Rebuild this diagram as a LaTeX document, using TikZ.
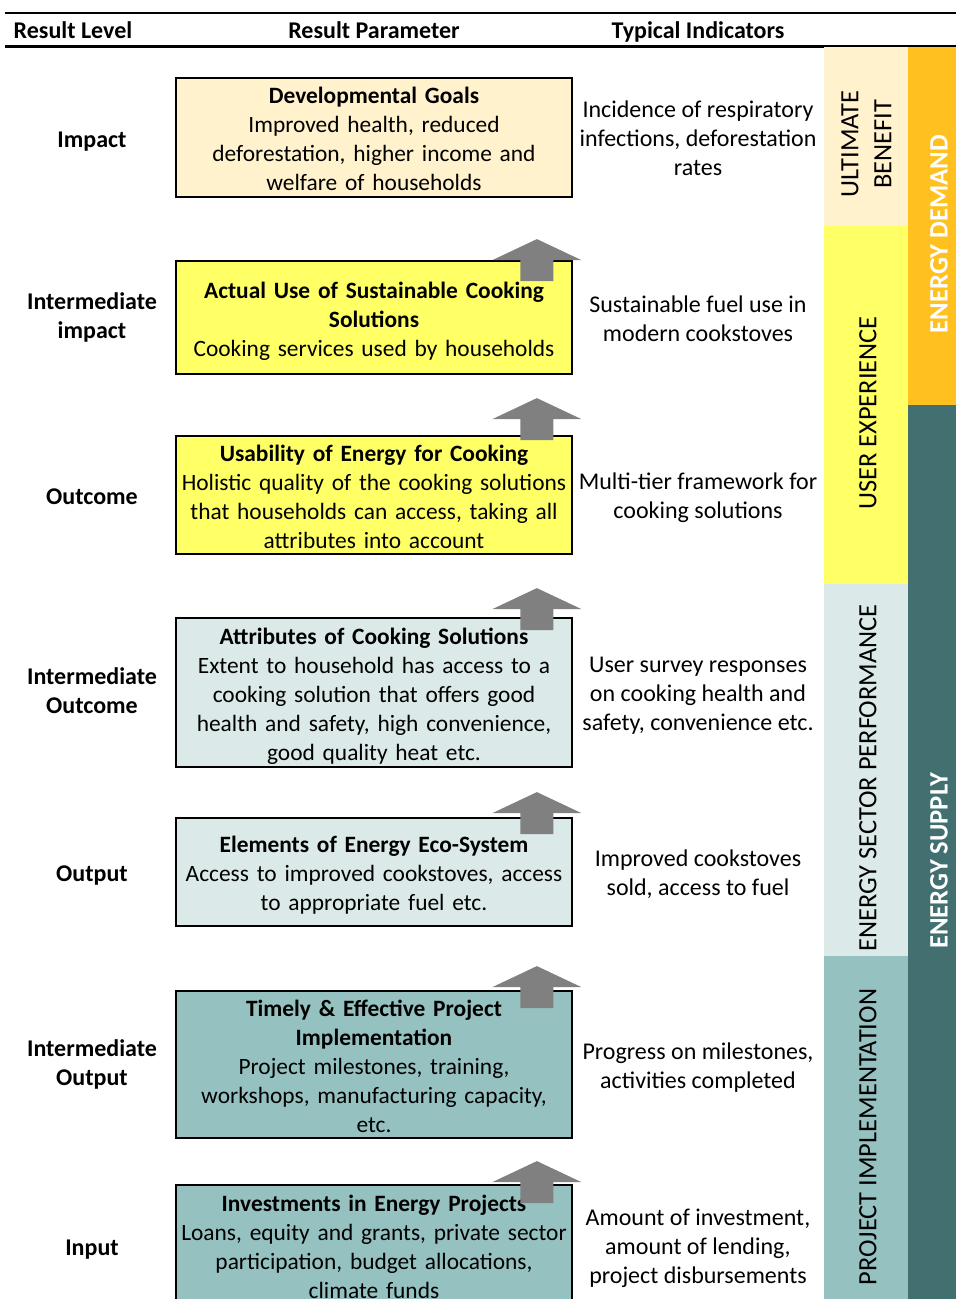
\documentclass[tikz,border=0pt]{standalone}
\usepackage{fontspec}
\setmainfont{Carlito}
\usetikzlibrary{calc}
\definecolor{cream}{HTML}{FFF2CC}
\definecolor{lemon}{HTML}{FFFF66}
\definecolor{paleteal}{HTML}{DBE9E9}
\definecolor{midteal}{HTML}{95C1C1}
\definecolor{darkteal}{HTML}{426F6F}
\definecolor{gold}{HTML}{FFC020}
\definecolor{arrowgray}{HTML}{808080}
% invisible line prop that keeps the text block height even
\newcommand\linestrut{\rule[-4.7pt]{0pt}{29pt}}
\begin{document}
\begin{tikzpicture}[x=1pt,y=-1pt,
  every node/.style={font=\fontsize{24}{29}\selectfont},
  struts/.style={execute at begin node=\linestrut, execute at end node=\linestrut},
  resbox/.style={draw=black, line width=1.8pt, text width=396pt,
    inner xsep=0pt, inner ysep=0pt, align=center, struts,
    font=\fontsize{23.4}{29}\selectfont},
  level/.style={font=\fontsize{24}{29}\selectfont\bfseries, align=center, struts},
  indic/.style={align=center, struts, yshift=-3.5pt},
  colhead/.style={font=\fontsize{24}{29}\selectfont\bfseries, anchor=base},
  band/.style={rotate=90, align=center, font=\fontsize{26.4}{33}\selectfont},
  bigband/.style={rotate=90, text=white, font=\fontsize{26.6}{33}\selectfont\bfseries},
  uparr/.pic={\fill[arrowgray] (0,0) -- (44.5,21) -- (16.5,21) -- (16.5,42)
      -- (-16.5,42) -- (-16.5,21) -- (-44.5,21) -- cycle;}
]
\clip (0,0) rectangle (956,1299);
\fill[white] (0,0) rectangle (956,1299);

% column headings and rules
\draw[line width=2.4pt] (5,13) -- (956,13);
\draw[line width=2.4pt] (5,46.5) -- (956,46.5);
\node[colhead] (h1) at (73,38) {Result Level};
\node[colhead] (h2) at (374,38) {Result Parameter};
\node[colhead] (h3) at (698,38) {Typical Indicators};

% side bands
\fill[cream] (824,47) rectangle (908,226);
\fill[lemon] (824,226) rectangle (908,584);
\fill[paleteal] (824,584) rectangle (908,956);
\fill[midteal] (824,956) rectangle (908,1299);
\fill[gold] (908,47) rectangle (956,405);
\fill[darkteal] (908,405) rectangle (956,1299);
\node[band] (ub) at (866.5,144) {ULTIMATE\\BENEFIT};
\node[band] (ux) at (868,413) {USER EXPERIENCE};
\node[band] (esp) at (868,778) {ENERGY SECTOR PERFORMANCE};
\node[band] (pi) at (868,1137) {PROJECT IMPLEMENTATION};
\node[bigband] (ed) at (939,234) {ENERGY DEMAND};
\node[bigband] (es) at (939,861) {ENERGY SUPPLY};

% result parameter boxes
\node[resbox, fill=cream, minimum height=119pt] (b1) at (374,137.5)
  {\textbf{Developmental Goals}\\Improved health, reduced\\deforestation, higher income and\\welfare of households};
\node[resbox, fill=lemon, minimum height=113pt] (b2) at (374,317.5)
  {\textbf{Actual Use of Sustainable Cooking}\\\textbf{Solutions}\\Cooking services used by households};
\node[resbox, fill=lemon, minimum height=118pt] (b3) at (374,495)
  {\textbf{Usability of Energy for Cooking}\\Holistic quality of the cooking solutions\\that households can access, taking all\\attributes into account};
\node[resbox, fill=paleteal, minimum height=149pt] (b4) at (374,692.5)
  {\textbf{Attributes of Cooking Solutions}\\Extent to household has access to a\\cooking solution that offers good\\health and safety, high convenience,\\good quality heat etc.};
\node[resbox, fill=paleteal, minimum height=108pt] (b5) at (374,872)
  {\textbf{Elements of Energy Eco-System}\\Access to improved cookstoves, access\\to appropriate fuel etc.};
\node[resbox, fill=midteal, minimum height=147pt] (b6) at (374,1064.5)
  {\textbf{Timely \& Effective Project}\\\textbf{Implementation}\\Project milestones, training,\\workshops, manufacturing capacity,\\etc.};
\node[resbox, fill=midteal, minimum height=121pt] (b7) at (374,1245.5)
  {\textbf{Investments in Energy Projects}\\Loans, equity and grants, private sector\\participation, budget allocations,\\climate funds};

% upward arrows between levels
\pic at ($(b2.north east)+(-36,-21)$) {uparr};
\pic at ($(b3.north east)+(-36,-37)$) {uparr};
\pic at ($(b4.north east)+(-36,-29)$) {uparr};
\pic at ($(b5.north east)+(-36,-25)$) {uparr};
\pic at ($(b6.north east)+(-36,-24)$) {uparr};
\pic at ($(b7.north east)+(-36,-23)$) {uparr};

% result levels
\coordinate (lvx) at (92,0);
\coordinate (inx) at (698,0);
\node[level] (l1) at (b1 -| lvx) {Impact};
\node[level] (l2) at (b2 -| lvx) {Intermediate\\impact};
\node[level] (l3) at (b3 -| lvx) {Outcome};
\node[level] (l4) at (b4 -| lvx) {Intermediate\\Outcome};
\node[level] (l5) at (b5 -| lvx) {Output};
\node[level] (l6) at (b6 -| lvx) {Intermediate\\Output};
\node[level] (l7) at (b7 -| lvx) {Input};

% typical indicators
\node[indic] (i1) at (b1 -| inx) {Incidence of respiratory\\infections, deforestation\\rates};
\node[indic] (i2) at (b2 -| inx) {Sustainable fuel use in\\modern cookstoves};
\node[indic] (i3) at (b3 -| inx) {Multi-tier framework for\\cooking solutions};
\node[indic] (i4) at (b4 -| inx) {User survey responses\\on cooking health and\\safety, convenience etc.};
\node[indic] (i5) at (b5 -| inx) {Improved cookstoves\\sold, access to fuel};
\node[indic] (i6) at (b6 -| inx) {Progress on milestones,\\activities completed};
\node[indic] (i7) at (b7 -| inx) {Amount of investment,\\amount of lending,\\project disbursements};
\end{tikzpicture}
\end{document}
